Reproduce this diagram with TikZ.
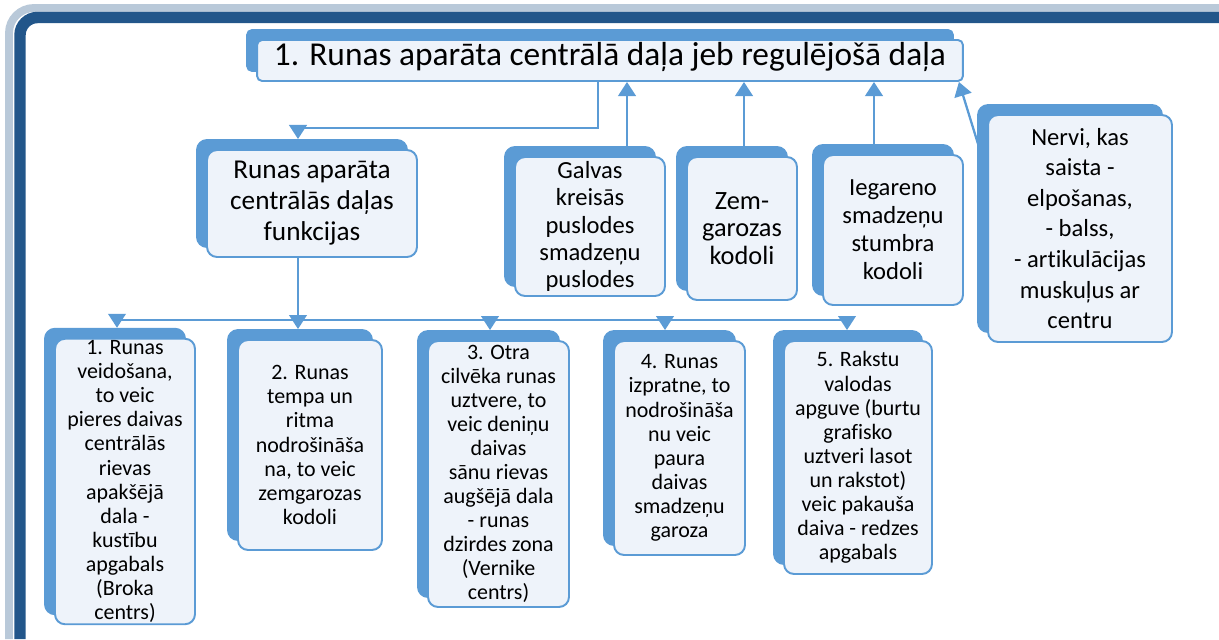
\documentclass[tikz,border=0pt]{standalone}
\usepackage{fontspec}
\setmainfont[Ligatures=NoCommon]{Carlito}
\usepackage{tikz}
\usetikzlibrary{arrows.meta, shadows, positioning}
\definecolor{boxblue}{HTML}{5B9BD5}
\definecolor{boxfill}{HTML}{EEF3FA}
\definecolor{framedark}{HTML}{22568A}
\definecolor{framesoft}{HTML}{B9C9D9}
\tikzset{
	panel/.style={
		rectangle,
		rounded corners=0.2cm,
		draw=boxblue,
		line width=1.1pt,
		fill=boxfill,
		align=center,
		inner sep=1pt,
		copy shadow={shadow xshift=-0.2cm, shadow yshift=0.2cm, fill=boxblue, draw=boxblue}
	},
	headbox/.style={panel, rounded corners=0.1cm, font=\fontsize{19}{22}\selectfont},
	groupbox/.style={panel, font=\fontsize{15.5}{17.6}\selectfont},
	partbox/.style={panel, font=\fontsize{14}{15.6}\selectfont},
	taskbox/.style={panel, font=\fontsize{12.5}{13.7}\selectfont},
	link/.style={draw=boxblue, line width=1.3pt},
	arrow/.style={link, -{Triangle[width=10pt, length=8pt]}}
}

\begin{document}
\begin{tikzpicture}[x=0.02cm, y=-0.02cm]
	\useasboundingbox (0,0) rectangle (1219,639);
	% frame
	\draw[framesoft, line width=4.5pt, rounded corners=0.5cm] (9,639) -- (9,8) -- (1219,8);
	\draw[framedark, line width=6.5pt, rounded corners=0.35cm] (20,639) -- (20,17.5) -- (1219,17.5);

	\node (title) [headbox, minimum width=14.12cm, minimum height=0.82cm, text depth=0.28cm] at (610,60.5) {1. Runas aparāta centrālā daļa jeb regulējošā daļa};
	\node (func) [groupbox, minimum width=4.2cm, minimum height=2.14cm] at (312,203.5) {Runas aparāta\\centrālās daļas\\funkcijas};

	\node (galvas) [partbox, minimum width=3cm, minimum height=2.78cm] at (590,226.5) {Galvas\\kreisās\\puslodes\\smadzeņu\\puslodes};
	\node (zem) [partbox, minimum width=2.2cm, minimum height=2.86cm, font=\fontsize{15}{15.6}\selectfont] at (742,228.5) {Zem-\\garozas\\kodoli};
	\node (iegar) [partbox, minimum width=2.8cm, minimum height=3cm, font=\fontsize{14}{16}\selectfont] at (893,230) {Iegareno\\smadzeņu\\stumbra\\kodoli};
	\node (nervi) [partbox, minimum width=3.68cm, minimum height=4.54cm, font=\fontsize{14}{17.4}\selectfont] at (1080,228.5) {Nervi, kas\\saista -\\elpošanas,\\- balss,\\- artikulācijas\\muskuļus ar\\centru};

	\node (b1) [taskbox, minimum width=2.8cm, minimum height=5.66cm] at (125,481.5) {1. Runas\\veidošana,\\to veic\\pieres daivas\\centrālās\\rievas\\apakšējā\\dala -\\kustību\\apgabals\\(Broka\\centrs)};
	\node (b2) [taskbox, minimum width=2.88cm, minimum height=4.2cm] at (310,445) {2. Runas\\tempa un\\ritma\\nodrošināša\\na, to veic\\zemgarozas\\kodoli};
	\node (b3) [taskbox, minimum width=2.82cm, minimum height=5.32cm] at (498.5,474) {3. Otra\\cilvēka runas\\uztvere, to\\veic deniņu\\daivas\\sānu rievas\\augšējā dala\\- runas\\dzirdes zona\\(Vernike\\centrs)};
	\node (b4) [taskbox, minimum width=2.62cm, minimum height=4.28cm] at (679.5,448) {4. Runas\\izpratne, to\\nodrošināša\\nu veic\\paura\\daivas\\smadzeņu\\garoza};
	\node (b5) [taskbox, minimum width=2.96cm, minimum height=4.66cm] at (858,457.5) {5. Rakstu\\valodas\\apguve (burtu\\grafisko\\uztveri lasot\\un rakstot)\\veic pakauša\\daiva - redzes\\apgabals};

	% joints
	\coordinate (bendR) at (598,128);
	\coordinate (bendL) at (298,128);
	\coordinate (d1) at (117,320);
	\coordinate (d2) at (298,320);
	\coordinate (d3) at (490,320);
	\coordinate (d4) at (665,320);
	\coordinate (d5) at (847,320);
	\coordinate (ug) at (627,0);
	\coordinate (uz) at (744,0);
	\coordinate (ui) at (874,0);

	\draw [arrow, shorten >=0.2cm] (title.south -| bendR) -- (bendR) -- (bendL) -- (func.north -| bendL);
	\draw [link] (func.south -| d2) -- (d2);
	\draw [link] (d1) -- (d5);
	\draw [arrow, shorten >=0.2cm] (d1) -- (b1.north -| d1);
	\draw [arrow, shorten >=0.2cm] (d2) -- (b2.north -| d2);
	\draw [arrow, shorten >=0.2cm] (d3) -- (b3.north -| d3);
	\draw [arrow, shorten >=0.2cm] (d4) -- (b4.north -| d4);
	\draw [arrow, shorten >=0.2cm] (d5) -- (b5.north -| d5);

	\draw [arrow] (galvas.north -| ug) -- (title.south -| ug);
	\draw [arrow] (zem.north -| uz) -- (title.south -| uz);
	\draw [arrow] (iegar.north -| ui) -- (title.south -| ui);
	\draw [arrow] ([xshift=-0.18cm, yshift=-0.6cm]nervi.north west) -- ([xshift=-0.1cm]title.south east);
\end{tikzpicture}
\end{document}
